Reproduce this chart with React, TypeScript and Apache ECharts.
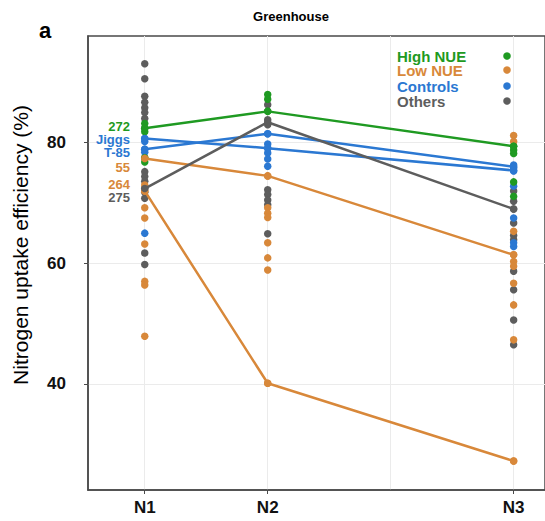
import React, { useEffect, useRef } from "react";
import * as echarts from "echarts";

// Nitrogen levels: x positions on the value axis and their labels
const LEVEL_X = [1, 2, 4];
const LEVEL_LABELS = ["N1", "N2", "N3"];
const GRID_X = [1, 2, 3, 4];
const Y_TICKS = [40, 60, 80];

// Colours per group
const GREEN = "#1f9a22";
const ORANGE = "#d8883a";
const BLUE = "#2b78d2";
const GRAY = "#5d5d5d";

// Dot values per group per level [N1, N2, N3]
const HIGH_NUE = [
  [83.2, 82.4, 81.8, 77.5, 76.8],
  [88.0, 87.2, 85.2],
  [79.4, 78.8, 78.2, 73.5, 71.1],
];
const LOW_NUE = [
  [77.5, 73.0, 72.0, 69.2, 67.5, 63.2, 57.0, 56.4, 47.9],
  [74.5, 69.2, 68.3, 67.6, 63.4, 60.9, 58.9, 40.1],
  [81.2, 80.2, 65.3, 61.4, 60.3, 59.5, 56.7, 53.1, 47.3, 27.2],
];
const CONTROLS = [
  [80.7, 80.2, 78.9, 78.4, 65.0],
  [81.5, 79.8, 79.1, 78.3, 77.3, 76.1],
  [76.3, 75.8, 75.3, 72.8, 67.5, 63.4, 62.8],
];
const OTHERS = [
  [93.1, 90.6, 87.7, 86.7, 85.8, 85.0, 84.0, 75.2, 74.4, 73.6, 72.4, 71.8, 70.8, 61.7, 59.8],
  [86.3, 83.8, 83.0, 72.2, 71.4, 70.5, 69.7, 64.9],
  [72.0, 70.3, 69.0, 66.7, 64.6, 63.9, 58.7, 55.6, 50.6, 46.5],
];

// Highlighted genotypes [N1, N2, N3]
const G272 = [82.4, 85.2, 79.4];
const JIGGS = [80.7, 79.1, 75.4];
const T85 = [78.9, 81.5, 76.0];
const G55 = [77.4, 74.5, 61.4];
const G264 = [72.0, 40.1, 27.2];
const G275 = [72.4, 83.4, 69.0];

const GENOTYPES = [
  { name: "272", values: G272, color: GREEN },
  { name: "Jiggs", values: JIGGS, color: BLUE },
  { name: "T-85", values: T85, color: BLUE },
  { name: "55", values: G55, color: ORANGE },
  { name: "264", values: G264, color: ORANGE },
  { name: "275", values: G275, color: GRAY },
];

const GROUPS = [
  { name: "High NUE", values: HIGH_NUE, color: GREEN },
  { name: "Low NUE", values: LOW_NUE, color: ORANGE },
  { name: "Controls", values: CONTROLS, color: BLUE },
  { name: "Others", values: OTHERS, color: GRAY },
];

const FONT = "'Liberation Sans', Arial, sans-serif";

function toPoints(levels: number[][]) {
  const pts: number[][] = [];
  levels.forEach((vals, i) => vals.forEach((v) => pts.push([LEVEL_X[i], v])));
  return pts;
}

export default function App() {
  const ref = useRef<HTMLDivElement>(null);
  useEffect(() => {
    if (!ref.current) return;
    const chart = echarts.init(ref.current, undefined, { renderer: "svg" });

    const series: any[] = [];
    // draw "Others" first, then the rest on top
    [GROUPS[3], GROUPS[1], GROUPS[2], GROUPS[0]].forEach((g) => {
      series.push({
        type: "scatter",
        name: g.name,
        data: toPoints(g.values),
        symbolSize: 7.5,
        itemStyle: { color: g.color, opacity: 1 },
        z: 2,
      });
    });
    GENOTYPES.forEach((g) => {
      series.push({
        type: "line",
        name: g.name,
        data: g.values.map((v, i) => [LEVEL_X[i], v]),
        symbol: "circle",
        symbolSize: 7.5,
        showSymbol: true,
        lineStyle: { color: g.color, width: 2.5 },
        itemStyle: { color: g.color },
        z: g.color === GRAY ? 4 : 3,
      });
    });

    const genoLabelY = [126, 139, 152, 167, 184, 197];
    const graphics: any[] = [
      {
        type: "text",
        style: { text: "a", x: 39, y: 30, font: `bold 22px ${FONT}`, fill: "#000", align: "left", verticalAlign: "middle" },
      },
      {
        type: "text",
        style: { text: "Greenhouse", x: 291, y: 16, font: `bold 13px ${FONT}`, fill: "#000", align: "center", verticalAlign: "middle" },
      },
      {
        type: "text",
        x: 20,
        y: 245,
        rotation: Math.PI / 2,
        style: { text: "Nitrogen uptake efficiency (%)", x: 0, y: 0, font: `21px ${FONT}`, fill: "#000", align: "center", verticalAlign: "middle" },
      },
    ];
    GENOTYPES.forEach((g, i) => {
      graphics.push({
        type: "text",
        style: { text: g.name, x: 130, y: genoLabelY[i], font: `bold 13px ${FONT}`, fill: g.color, align: "right", verticalAlign: "middle" },
        z: 10,
      });
    });
    const legendY = [56, 70, 86, 101];
    GROUPS.forEach((g, i) => {
      graphics.push({
        type: "text",
        style: { text: g.name, x: 397, y: legendY[i], font: `bold 15px ${FONT}`, fill: g.color, align: "left", verticalAlign: "middle" },
        z: 10,
      });
      graphics.push({
        type: "circle",
        shape: { cx: 507, cy: legendY[i], r: 3.8 },
        style: { fill: g.color },
        z: 10,
      });
    });

    const axisColor = "#4a4a4a";
    chart.setOption({
      animation: false,
      grid: {
        left: 88,
        top: 36,
        right: -2,
        bottom: 31,
        show: true,
        borderColor: axisColor,
        borderWidth: 1.5,
        backgroundColor: "transparent",
      },
      xAxis: [
        {
          type: "value",
          min: 0.5385,
          max: 4.255,
          axisLine: { show: true, lineStyle: { color: axisColor, width: 1.5 } },
          axisTick: { show: true, length: 4, lineStyle: { color: axisColor }, customValues: LEVEL_X },
          axisLabel: {
            customValues: LEVEL_X,
            formatter: (v: number) => {
              const i = LEVEL_X.indexOf(Math.round(v));
              return i >= 0 ? LEVEL_LABELS[i] : "";
            },
            fontFamily: FONT,
            fontWeight: "bold",
            fontSize: 17,
            color: "#111",
            margin: 9,
          },
          splitLine: { show: false },
        },
        {
          type: "value",
          position: "bottom",
          min: 0.5385,
          max: 4.255,
          axisLine: { show: false },
          axisTick: { show: false, customValues: GRID_X },
          axisLabel: { show: false, customValues: GRID_X },
          splitLine: { show: true, lineStyle: { color: "#ebebeb", width: 1 } },
        },
      ],
      yAxis: {
        type: "value",
        min: 22.4,
        max: 97.7,
        axisLine: { show: true, lineStyle: { color: axisColor, width: 1.5 } },
        axisTick: { show: true, length: 4, lineStyle: { color: axisColor }, customValues: Y_TICKS },
        axisLabel: {
          customValues: Y_TICKS,
          fontFamily: FONT,
          fontWeight: "bold",
          fontSize: 17,
          color: "#111",
          margin: 22,
        },
        splitLine: { show: true, lineStyle: { color: "#ebebeb", width: 1 } },
      },
      graphic: graphics,
      series,
    });
    return () => chart.dispose();
  }, []);
  return (
    <div
      ref={ref}
      style={{ position: "absolute", left: 0, top: 0, width: 545, height: 521, background: "#fff" }}
    />
  );
}
